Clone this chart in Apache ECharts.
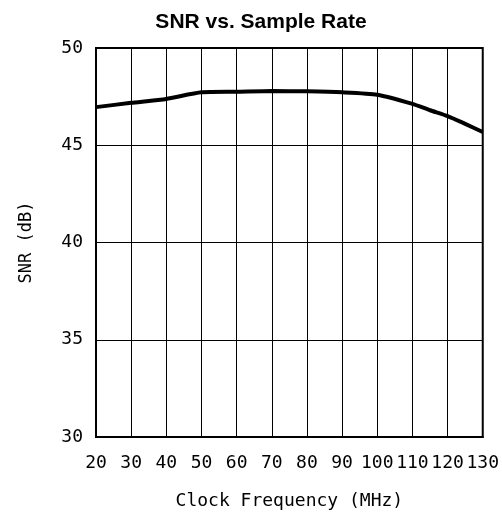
<!DOCTYPE html>
<html><head><meta charset="utf-8">
<script src="https://cdn.jsdelivr.net/npm/echarts@6/dist/echarts.min.js"></script>
<style>html,body{margin:0;padding:0;background:#fff}#c{width:502px;height:520px}</style>
</head><body><div id="c"></div>
<script>
const freqMHz = [20, 30, 40, 50, 60, 70, 80, 90, 100, 110, 115, 120, 125, 130];
const snrDb   = [46.96, 47.18, 47.38, 47.72, 47.75, 47.79, 47.77, 47.72, 47.6, 47.13, 46.8, 46.5, 46.1, 45.68];
const xTicks = [20, 30, 40, 50, 60, 70, 80, 90, 100, 110, 120, 130];
const yTicks = [30, 35, 40, 45, 50];
const chart = echarts.init(document.getElementById('c'), null, {renderer: 'canvas'});
const tickFont = {fontFamily: 'DejaVu Sans Mono', fontSize: 18, color: '#000'};
chart.setOption({
  animation: false,
  backgroundColor: '#fff',
  title: {text: 'SNR vs. Sample Rate', left: 256, top: 7, textAlign: 'center',
    textStyle: {fontFamily: 'Liberation Sans', fontWeight: 'bold', fontSize: 21, color: '#000'}},
  grid: {left: 96, right: 17, top: 48, bottom: 83, show: true, borderColor: '#000', borderWidth: 2, backgroundColor: 'transparent'},
  xAxis: {type: 'value', min: xTicks[0], max: xTicks[xTicks.length-1], interval: 10,
    name: 'Clock Frequency (MHz)', nameLocation: 'middle', nameGap: 55,
    nameTextStyle: Object.assign({}, tickFont, {fontSize: 18}),
    axisLine: {show: true, lineStyle: {color: '#000', width: 2}},
    axisTick: {show: false},
    axisLabel: Object.assign({margin: 17}, tickFont),
    splitLine: {show: true, lineStyle: {color: '#000', width: 1}}},
  yAxis: {type: 'value', min: yTicks[0], max: yTicks[yTicks.length-1], interval: 5,
    name: 'SNR (dB)', nameLocation: 'middle', nameGap: 61,
    nameTextStyle: Object.assign({}, tickFont, {fontSize: 17}),
    axisLine: {show: true, lineStyle: {color: '#000', width: 2}},
    axisTick: {show: false},
    axisLabel: Object.assign({margin: 13}, tickFont),
    splitLine: {show: true, lineStyle: {color: '#000', width: 1}}},
  series: [{type: 'line', data: freqMHz.map((f, i) => [f, snrDb[i]]),
    smooth: 0.2, showSymbol: false, lineStyle: {color: '#000', width: 4}}]
});
</script></body></html>
